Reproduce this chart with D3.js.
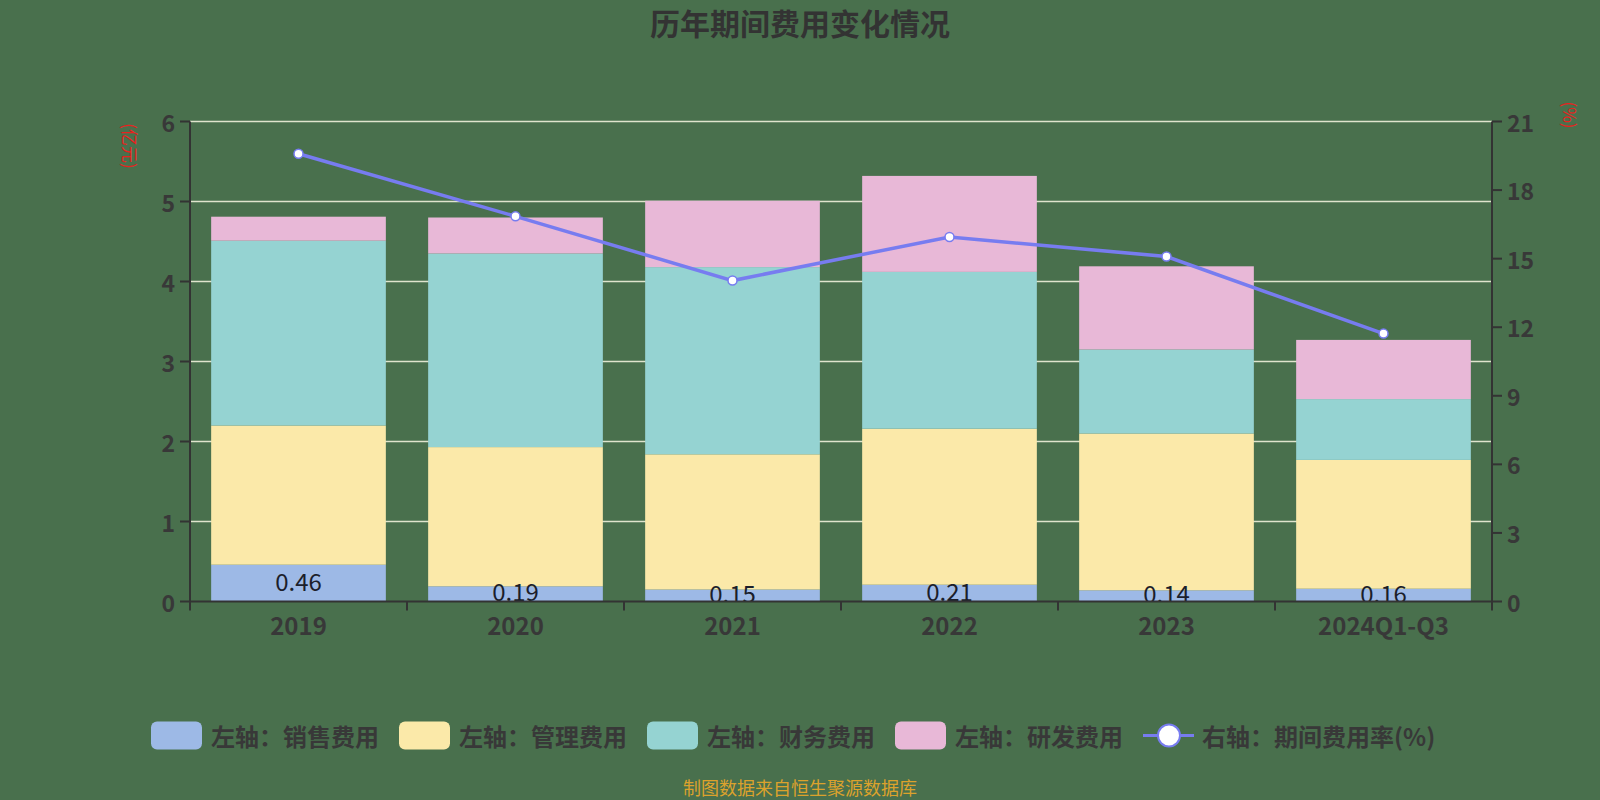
<!DOCTYPE html>
<html><head><meta charset="utf-8">
<script src="https://cdn.jsdelivr.net/npm/d3@7"></script>
<style>
html,body{margin:0;padding:0;background:#49704d;}
svg{display:block;}
text{font-family:"Noto Sans CJK SC","Noto Sans",sans-serif;}
</style></head>
<body>
<svg id="chart" width="1600" height="800"></svg>
<script>
const categories = ["2019","2020","2021","2022","2023","2024Q1-Q3"];
const salesExpense = [0.46,0.19,0.15,0.21,0.14,0.16];
const adminExpense = [1.74,1.74,1.69,1.95,1.96,1.61];
const financeExpense = [2.31,2.42,2.34,1.96,1.05,0.76];
const rdExpense = [0.30,0.45,0.83,1.20,1.04,0.74];
const expenseRate = [19.59,16.85,14.04,15.95,15.09,11.72];
const leftTicks = [0,1,2,3,4,5,6];
const rightTicks = [0,3,6,9,12,15,18,21];
const seriesNames = ["左轴：销售费用","左轴：管理费用","左轴：财务费用","左轴：研发费用"];
const lineName = "右轴：期间费用率(%)";
const colors = ["#9db9e6","#fbe9a9","#95d3d2","#e8b8d7"];
const lineColor = "#777cf0";

const svg = d3.select("#chart");
const W=1600,H=800;
const m={left:190,right:1492,top:121.5,bottom:601.5};

svg.append("rect").attr("width",W).attr("height",H).attr("fill","#49704d");

const x = d3.scaleBand().domain(categories).range([m.left,m.right]).paddingInner(0.195).paddingOuter(0.0975);
const yL = d3.scaleLinear().domain([0,6]).range([m.bottom,m.top]);
const yR = d3.scaleLinear().domain([0,21]).range([m.bottom,m.top]);

// title
svg.append("text").attr("x",800).attr("y",22).attr("text-anchor","middle").attr("dominant-baseline","central")
  .attr("font-size",30).attr("font-weight","bold").attr("fill","#333").text("历年期间费用变化情况");

// gridlines
svg.append("g").selectAll("line").data(leftTicks.filter(d=>d>0)).join("line")
  .attr("x1",m.left).attr("x2",m.right).attr("y1",d=>yL(d)).attr("y2",d=>yL(d))
  .attr("stroke","#dfe4cd").attr("stroke-width",1.5);

// stacked data
const rows = categories.map((c,i)=>({cat:c,s0:salesExpense[i],s1:adminExpense[i],s2:financeExpense[i],s3:rdExpense[i]}));
const stack = d3.stack().keys(["s0","s1","s2","s3"])(rows);

svg.append("clipPath").attr("id","plotclip").append("rect")
  .attr("x",m.left).attr("y",m.top).attr("width",m.right-m.left).attr("height",m.bottom-m.top);

const gBars = svg.append("g");
stack.forEach((layer,li)=>{
  gBars.append("g").attr("fill",colors[li]).selectAll("rect").data(layer).join("rect")
    .attr("x",d=>x(d.data.cat)).attr("width",x.bandwidth())
    .attr("y",d=>yL(d[1])).attr("height",d=>yL(d[0])-yL(d[1]));
});

// sales labels
svg.append("g").attr("clip-path","url(#plotclip)").selectAll("text").data(stack[0]).join("text")
  .attr("x",d=>x(d.data.cat)+x.bandwidth()/2).attr("y",d=>(yL(d[0])+yL(d[1]))/2-3)
  .attr("text-anchor","middle").attr("dominant-baseline","central")
  .attr("font-size",24).attr("fill","#1b1e2b").text(d=>d.data.s0.toFixed(2));

// axes
const axisColor="#333";
const gAx = svg.append("g").attr("stroke",axisColor).attr("stroke-width",2);
gAx.append("line").attr("x1",m.left).attr("x2",m.left).attr("y1",m.top).attr("y2",m.bottom);
gAx.append("line").attr("x1",m.right).attr("x2",m.right).attr("y1",m.top).attr("y2",m.bottom);
gAx.append("line").attr("x1",m.left).attr("x2",m.right).attr("y1",m.bottom).attr("y2",m.bottom);
gAx.selectAll(".lt").data(leftTicks).join("line").attr("class","lt")
  .attr("x1",m.left-10).attr("x2",m.left).attr("y1",d=>yL(d)).attr("y2",d=>yL(d));
gAx.selectAll(".rt").data(rightTicks).join("line").attr("class","rt")
  .attr("x1",m.right).attr("x2",m.right+10).attr("y1",d=>yR(d)).attr("y2",d=>yR(d));
const step = x.step();
const bounds = categories.map(c=>x(c)-(step-x.bandwidth())/2).concat([m.right]);
gAx.selectAll(".xt").data(bounds).join("line").attr("class","xt")
  .attr("x1",d=>d).attr("x2",d=>d).attr("y1",m.bottom).attr("y2",m.bottom+9);

svg.append("g").selectAll("text").data(leftTicks).join("text")
  .attr("x",m.left-15).attr("y",d=>yL(d)).attr("text-anchor","end").attr("dominant-baseline","central")
  .attr("font-size",23).attr("font-weight","bold").attr("fill","#383838").text(d=>d);
svg.append("g").selectAll("text").data(rightTicks).join("text")
  .attr("x",m.right+15).attr("y",d=>yR(d)).attr("text-anchor","start").attr("dominant-baseline","central")
  .attr("font-size",23).attr("font-weight","bold").attr("fill","#383838").text(d=>d);
svg.append("g").selectAll("text").data(categories).join("text")
  .attr("x",d=>x(d)+x.bandwidth()/2).attr("y",624).attr("text-anchor","middle").attr("dominant-baseline","central")
  .attr("font-size",24).attr("font-weight","bold").attr("fill","#383838").text(d=>d);

// axis names
svg.append("text").attr("transform","translate(130,146) rotate(90)").attr("text-anchor","middle").attr("dominant-baseline","central")
  .attr("font-size",17).attr("fill","#e8221e").text("(亿元)");
svg.append("text").attr("transform","translate(1570,115) rotate(90)").attr("text-anchor","middle").attr("dominant-baseline","central")
  .attr("font-size",17).attr("fill","#e8221e").text("(%)");

// line
const cx = d=>x(d)+x.bandwidth()/2;
const lineData = categories.map((c,i)=>({cat:c,v:expenseRate[i]}));
svg.append("path").datum(lineData)
  .attr("d",d3.line().x(d=>cx(d.cat)).y(d=>yR(d.v)))
  .attr("fill","none").attr("stroke",lineColor).attr("stroke-width",3.5);
svg.append("g").selectAll("circle").data(lineData).join("circle")
  .attr("cx",d=>cx(d.cat)).attr("cy",d=>yR(d.v)).attr("r",4.5)
  .attr("fill","#fff").attr("stroke",lineColor).attr("stroke-width",1.5);

// legend
const lg = svg.append("g");
const legY = 735.5;
const legX0 = 151, pitch = 248;
seriesNames.forEach((n,i)=>{
  const gx = legX0 + i*pitch;
  lg.append("rect").attr("x",gx).attr("y",legY-14).attr("width",51).attr("height",28).attr("rx",6).attr("fill",colors[i]);
  lg.append("text").attr("x",gx+60).attr("y",legY).attr("dominant-baseline","central")
    .attr("font-size",24).attr("font-weight","bold").attr("fill","#383838").text(n);
});
{
  const gx = 1143;
  lg.append("line").attr("x1",gx).attr("x2",gx+51).attr("y1",legY).attr("y2",legY).attr("stroke",lineColor).attr("stroke-width",3);
  lg.append("circle").attr("cx",gx+26).attr("cy",legY).attr("r",11).attr("fill","#fff").attr("stroke",lineColor).attr("stroke-width",2);
  lg.append("text").attr("x",gx+59).attr("y",legY).attr("dominant-baseline","central")
    .attr("font-size",24).attr("font-weight","bold").attr("fill","#383838").text(lineName);
}

// footer
svg.append("text").attr("x",800).attr("y",787).attr("text-anchor","middle").attr("dominant-baseline","central")
  .attr("font-size",18).attr("fill","#dca22c").text("制图数据来自恒生聚源数据库");
</script>
</body></html>
